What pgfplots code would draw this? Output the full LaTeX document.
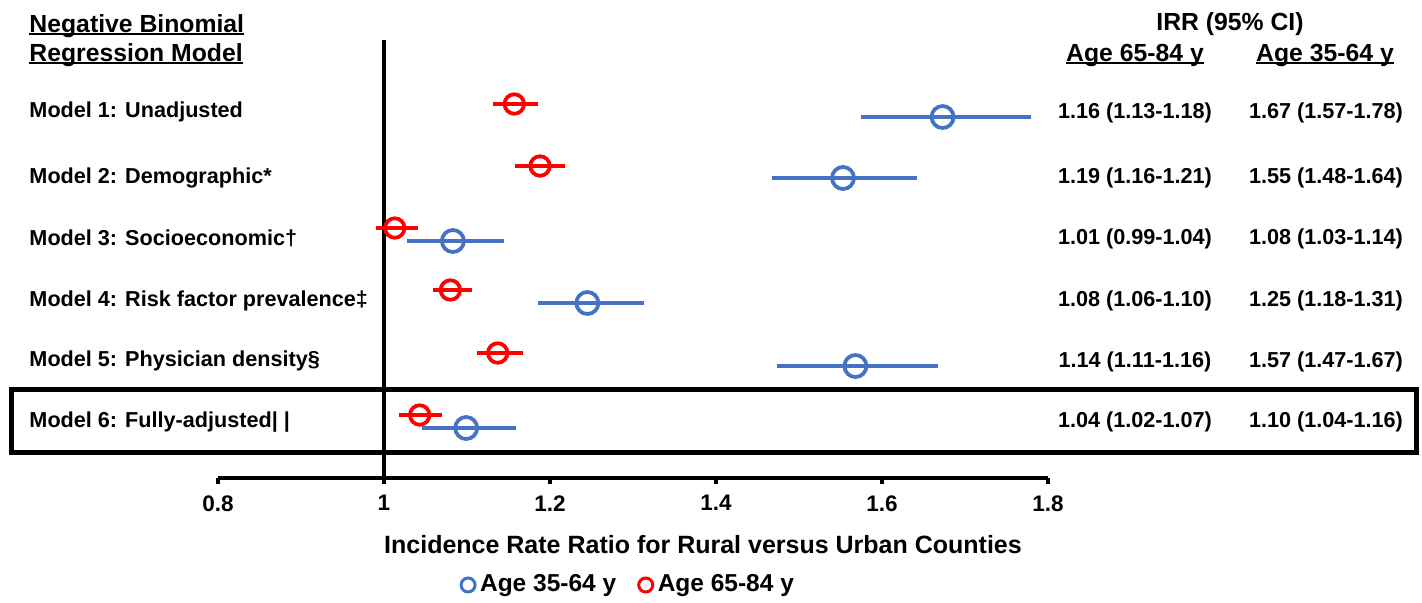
\documentclass[border=0pt]{standalone}
\usepackage{fontspec}
\setmainfont{Liberation Sans}
\usepackage{pgfplots}
\usepackage{pgfplotstable}
\pgfplotsset{compat=1.18}
\definecolor{myblue}{RGB}{68,114,196}
\definecolor{myred}{RGB}{255,0,0}
\newcommand{\ulx}[1]{\setbox0=\hbox{#1}\rlap{\rule[-0.14em]{\wd0}{0.085em}}\box0}
\newcommand{\hdr}{\bfseries\fontsize{9.9}{10}\selectfont}
\newcommand{\rowf}{\bfseries\fontsize{8.65}{10}\selectfont}

\pgfplotstableread{
x y ep em
1.157 -104 0.029 0.026
1.188 -166 0.030 0.030
1.013 -228 0.028 0.023
1.080 -290 0.026 0.021
1.137 -353 0.030 0.025
1.043 -415 0.027 0.025
}\redtab

\pgfplotstableread{
x y ep em
1.673 -117 0.107 0.098
1.553 -178 0.089 0.085
1.083 -241 0.062 0.055
1.245 -303 0.068 0.060
1.568 -366 0.100 0.094
1.099 -428 0.060 0.053
}\bluetab

\begin{document}
\begin{tikzpicture}
\begin{axis}[
  scale only axis, width=332pt, height=191.2pt,
  xmin=0.8, xmax=1.8, ymin=-478, ymax=0,
  axis x line*=bottom, axis y line=none,
  x axis line style={line width=1.3pt, black},
  xtick={0.8,1,1.2,1.4,1.6,1.8},
  xticklabels={0.8,1,1.2,1.4,1.6,1.8},
  tick align=outside, major tick length=2.4pt,
  tick style={line width=1.3pt, black},
  xticklabel style={font=\bfseries\fontsize{9}{10}\selectfont, yshift=-1pt},
  clip=false,
  legend columns=2,
  legend cell align=left,
  legend image code/.code={\draw[mark repeat=2,mark phase=2,#1] plot coordinates {(0cm,0cm) (0.12cm,0cm) (0.24cm,0cm)};},
  legend image post style={mark size=2.8pt, line width=1.2pt},
  legend style={at={(axis description cs:0.4964,-0.2238)}, anchor=center, draw=none, fill=none,
    font=\bfseries\fontsize{9.8}{10}\selectfont, inner sep=0pt,
    /tikz/every even column/.append style={column sep=7pt}},
]
\path (axis cs:0.53735,0) rectangle (axis cs:2.25060,-602);

\addplot[black, line width=1.4pt, forget plot] coordinates {(1,-40) (1,-478)};

\addplot[only marks, mark=o, mark size=4.4pt, color=myblue, line width=1.5pt,
  error bars/.cd, x dir=both, x explicit, error mark=none,
  error bar style={line width=1.6pt, myblue}]
  table[x=x, y=y, x error plus=ep, x error minus=em] {\bluetab};
\addlegendentry{Age 35-64 y}

\addplot[only marks, mark=o, mark size=3.9pt, color=myred, line width=1.5pt,
  error bars/.cd, x dir=both, x explicit, error mark=none,
  error bar style={line width=1.6pt, myred}]
  table[x=x, y=y, x error plus=ep, x error minus=em] {\redtab};
\addlegendentry{Age 65-84 y}

\draw[line width=2pt, black] (axis cs:0.55145,-389) rectangle (axis cs:2.24337,-452);

\node[anchor=base west, inner sep=0pt, font=\hdr] at (axis cs:0.57229,-32) {\ulx{Negative Binomial}};
\node[anchor=base west, inner sep=0pt, font=\hdr] at (axis cs:0.57229,-61) {\ulx{Regression Model}};
\node[anchor=base, inner sep=0pt, font=\hdr] at (axis cs:2.01928,-30) {IRR (95\% CI)};
\node[anchor=base, inner sep=0pt, font=\hdr] at (axis cs:1.90482,-61) {\ulx{Age 65-84 y}};
\node[anchor=base, inner sep=0pt, font=\hdr] at (axis cs:2.13373,-61) {\ulx{Age 35-64 y}};

\node[anchor=base west, inner sep=0pt, font=\rowf] at (axis cs:0.57229,-117) {Model 1: Unadjusted};
\node[anchor=base west, inner sep=0pt, font=\rowf] at (axis cs:0.57229,-183) {Model 2: Demographic*};
\node[anchor=base west, inner sep=0pt, font=\rowf] at (axis cs:0.57229,-245) {Model 3: Socioeconomic†};
\node[anchor=base west, inner sep=0pt, font=\rowf] at (axis cs:0.57229,-306) {Model 4: Risk factor prevalence‡};
\node[anchor=base west, inner sep=0pt, font=\rowf] at (axis cs:0.57229,-366) {Model 5: Physician density§};
\node[anchor=base west, inner sep=0pt, font=\rowf] at (axis cs:0.57229,-427) {Model 6: Fully-adjusted| |};

\node[anchor=base, inner sep=0pt, font=\rowf] at (axis cs:1.90482,-118) {1.16 (1.13-1.18)};
\node[anchor=base, inner sep=0pt, font=\rowf] at (axis cs:1.90482,-183) {1.19 (1.16-1.21)};
\node[anchor=base, inner sep=0pt, font=\rowf] at (axis cs:1.90482,-244) {1.01 (0.99-1.04)};
\node[anchor=base, inner sep=0pt, font=\rowf] at (axis cs:1.90482,-306) {1.08 (1.06-1.10)};
\node[anchor=base, inner sep=0pt, font=\rowf] at (axis cs:1.90482,-367) {1.14 (1.11-1.16)};
\node[anchor=base, inner sep=0pt, font=\rowf] at (axis cs:1.90482,-427) {1.04 (1.02-1.07)};

\node[anchor=base, inner sep=0pt, font=\rowf] at (axis cs:2.13494,-118) {1.67 (1.57-1.78)};
\node[anchor=base, inner sep=0pt, font=\rowf] at (axis cs:2.13494,-183) {1.55 (1.48-1.64)};
\node[anchor=base, inner sep=0pt, font=\rowf] at (axis cs:2.13494,-244) {1.08 (1.03-1.14)};
\node[anchor=base, inner sep=0pt, font=\rowf] at (axis cs:2.13494,-306) {1.25 (1.18-1.31)};
\node[anchor=base, inner sep=0pt, font=\rowf] at (axis cs:2.13494,-367) {1.57 (1.47-1.67)};
\node[anchor=base, inner sep=0pt, font=\rowf] at (axis cs:2.13494,-427) {1.10 (1.04-1.16)};

\node[anchor=base, inner sep=0pt, font=\bfseries\fontsize{10}{10}\selectfont] at (axis cs:1.38434,-553) {Incidence Rate Ratio for Rural versus Urban Counties};
\end{axis}
\end{tikzpicture}
\end{document}
